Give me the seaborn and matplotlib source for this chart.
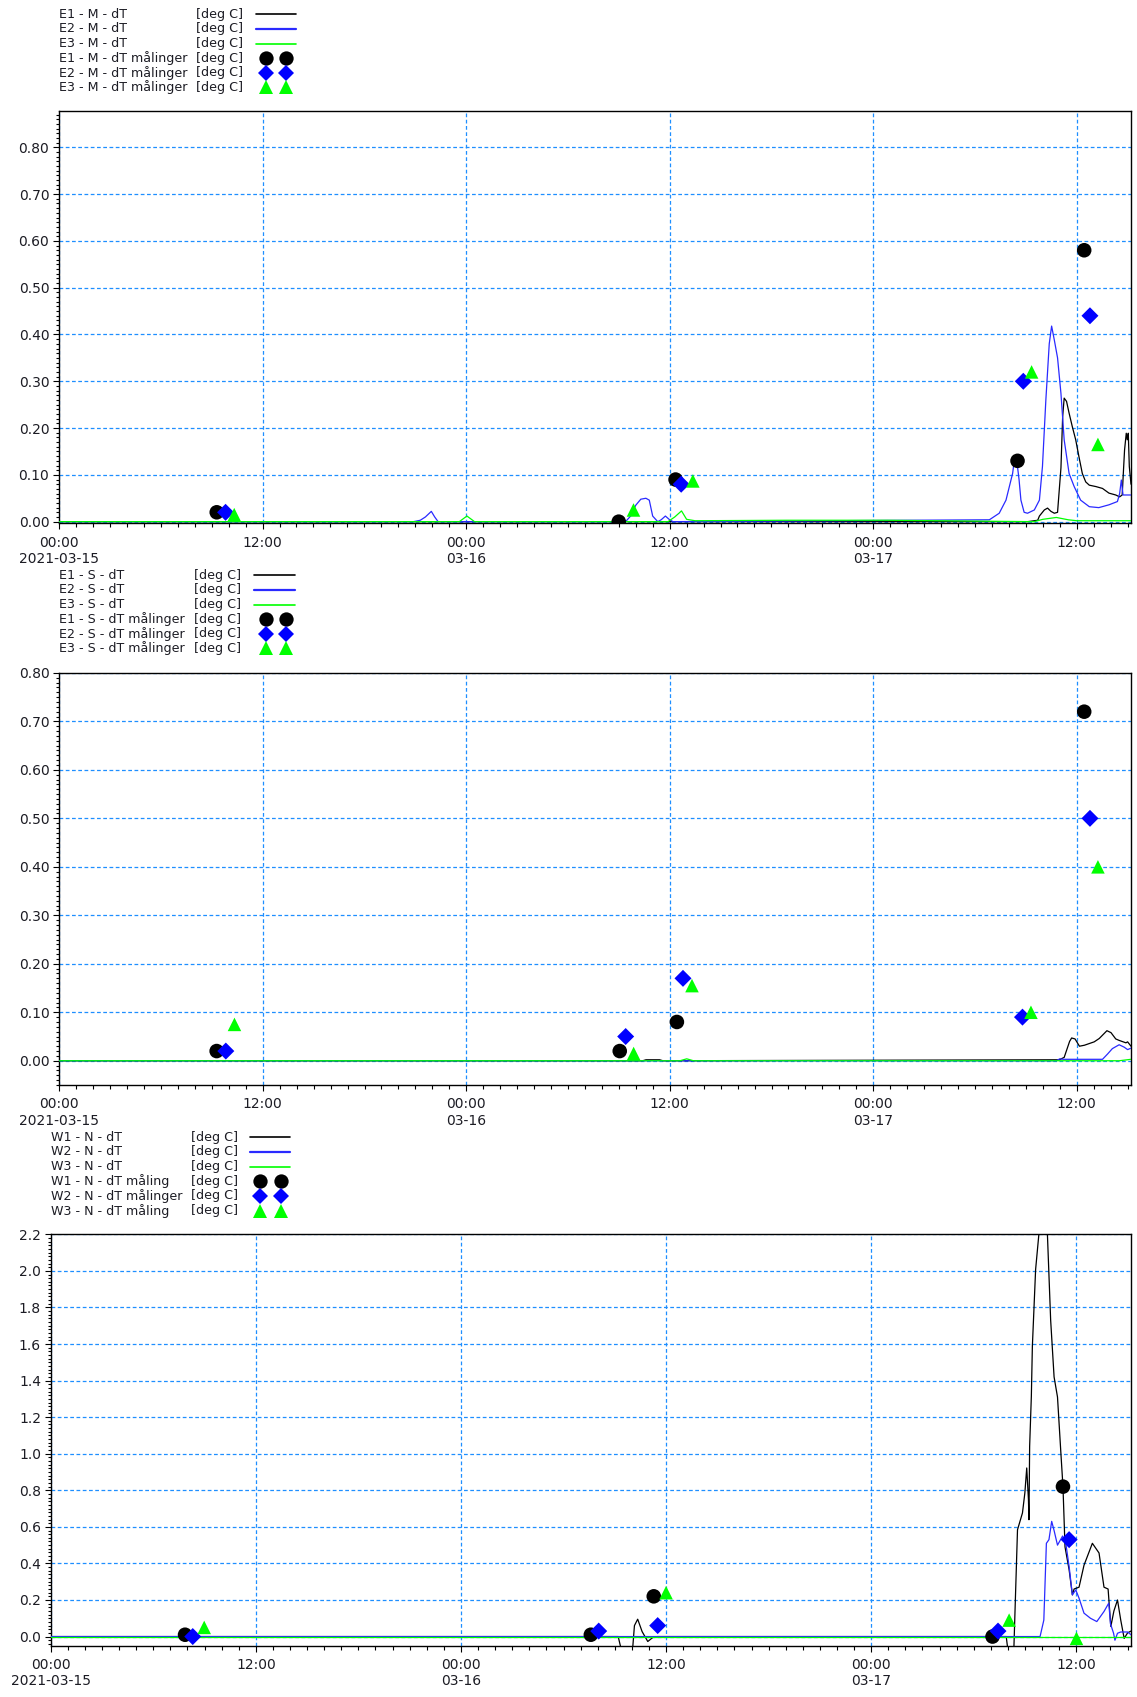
import numpy as np
import pandas as pd
import matplotlib
matplotlib.use("Agg")
import matplotlib.pyplot as plt
from matplotlib.lines import Line2D
from matplotlib.ticker import MultipleLocator, FuncFormatter
import seaborn as sns

sns.set_theme(style="white")
plt.rcParams["font.family"] = ["DejaVu Sans"]

# ---------------------------------------------------------------------------
# Time axis: hours since 2021-03-15 00:00
# ---------------------------------------------------------------------------
day_labels = ["2021-03-15", "03-16", "03-17"]
x_end = 63.2

# ---------------------------------------------------------------------------
# Panel 1 : E - M - dT
# ---------------------------------------------------------------------------
m_e1_t = [0, 57.1, 57.7, 57.8, 58.09, 58.28, 58.48, 58.68, 58.87, 59.07, 59.17, 59.26, 59.4,
          59.55, 59.74, 59.94, 60.13, 60.33, 60.53, 60.74, 61.13, 61.52, 61.9, 62.3, 62.53,
          62.68, 62.82, 62.92, 62.98, 63.04, 63.1, 63.2]
m_e1_v = [0, 0.0, 0.003, 0.012, 0.025, 0.029, 0.022, 0.018, 0.02, 0.115, 0.224, 0.264, 0.257,
          0.232, 0.203, 0.175, 0.139, 0.103, 0.085, 0.078, 0.075, 0.071, 0.061, 0.057, 0.053,
          0.057, 0.153, 0.189, 0.175, 0.189, 0.118, 0.08]
m_e2_t = [0, 20.9, 21.3, 21.6, 21.95, 22.15, 22.35, 33.4, 33.7, 34.0, 34.3, 34.6, 34.8, 35.0,
          35.3, 35.5, 35.75, 36.0, 36.2, 54.85, 55.43, 55.83, 56.22, 56.3, 56.5, 56.6, 56.71,
          56.9, 57.1, 57.5, 57.8, 57.98, 58.18, 58.38, 58.52, 58.68, 58.87, 59.07, 59.26,
          59.55, 59.85, 60.23, 60.74, 61.3, 61.9, 62.4, 62.53, 62.63, 62.73, 63.0, 63.2]
m_e2_v = [0, 0, 0.003, 0.01, 0.022, 0.01, 0, 0, 0.012, 0.035, 0.048, 0.05, 0.046, 0.012,
          0, 0.004, 0.012, 0.004, 0, 0.004, 0.018, 0.046, 0.103, 0.125, 0.12, 0.09, 0.046,
          0.02, 0.018, 0.025, 0.046, 0.118, 0.26, 0.38, 0.418, 0.388, 0.35, 0.274, 0.175,
          0.103, 0.075, 0.046, 0.032, 0.03, 0.036, 0.043, 0.06, 0.089, 0.057, 0.057, 0.057]
m_e3_t = [0, 23.6, 24.05, 24.5, 35.9, 36.3, 36.7, 37.0, 37.5, 42.9, 48.8, 57.5, 58.0, 58.8,
          59.5, 60.0, 63.2]
m_e3_v = [0, 0, 0.012, 0, 0, 0.01, 0.023, 0.005, 0.002, 0.003, 0.003, 0.0, 0.005, 0.009,
          0.004, 0.002, 0.002]

m_e1_meas_t = [9.3, 33.0, 36.35, 56.51, 60.44]
m_e1_meas_v = [0.02, 0.0, 0.09, 0.13, 0.58]
m_e2_meas_t = [9.82, 36.68, 56.85, 60.78]
m_e2_meas_v = [0.02, 0.08, 0.30, 0.44]
m_e3_meas_t = [10.33, 33.87, 37.37, 57.34, 61.25]
m_e3_meas_v = [0.015, 0.025, 0.087, 0.32, 0.165]

# ---------------------------------------------------------------------------
# Panel 2 : E - S - dT
# ---------------------------------------------------------------------------
s_e1_t = [0, 34.4, 34.6, 35.4, 35.6, 58.97, 59.26, 59.58, 59.7, 59.9, 60.16, 60.45, 61.03,
          61.33, 61.78, 62.02, 62.3, 62.5, 62.9, 63.0, 63.2]
s_e1_v = [0, 0, 0.002, 0.002, 0, 0.002, 0.007, 0.04, 0.047, 0.045, 0.03, 0.032, 0.039,
          0.046, 0.062, 0.058, 0.045, 0.042, 0.037, 0.039, 0.03]
s_e2_t = [0, 58.8, 59.0, 59.2, 61.52, 61.82, 62.1, 62.5, 62.8, 63.0, 63.2]
s_e2_v = [0, 0, 0.004, 0.003, 0.003, 0.014, 0.025, 0.033, 0.028, 0.023, 0.026]
s_e3_t = [0, 36.6, 37.0, 37.4, 62.5, 63.2]
s_e3_v = [0, 0, 0.004, 0, 0, 0.003]

s_e1_meas_t = [9.28, 33.05, 36.42, 60.44]
s_e1_meas_v = [0.02, 0.02, 0.08, 0.72]
s_e2_meas_t = [9.82, 33.40, 36.78, 56.80, 60.78]
s_e2_meas_v = [0.02, 0.05, 0.17, 0.09, 0.50]
s_e3_meas_t = [10.33, 33.87, 37.31, 57.30, 61.25]
s_e3_meas_v = [0.075, 0.015, 0.155, 0.10, 0.40]

# ---------------------------------------------------------------------------
# Panel 3 : W - N - dT
# ---------------------------------------------------------------------------
n_w1_t = [0, 33.2, 33.5, 34.0, 34.15, 34.34, 34.6, 34.93, 35.25, 35.5, 55.9, 56.06, 56.33,
          56.56, 56.85, 56.99, 57.1, 57.2, 57.23, 57.27, 57.37, 57.43, 57.62, 57.8, 58.0,
          58.2, 58.31, 58.5, 58.7, 58.9, 59.1, 59.22, 59.34, 59.58, 59.77, 59.87, 60.16,
          60.45, 60.94, 61.33, 61.62, 61.86, 62.02, 62.2, 62.41, 62.6, 62.8, 63.0, 63.2]
n_w1_v = [0, 0, -0.12, -0.12, 0.06, 0.095, 0.027, -0.027, -0.003, 0, 0, -0.12, -0.12,
          0.584, 0.676, 0.785, 0.922, 0.75, 0.639, 1.04, 1.314, 1.588, 2.008, 2.19, 2.38,
          2.38, 2.2, 1.73, 1.42, 1.31, 1.0, 0.82, 0.49, 0.365, 0.228, 0.26, 0.27,
          0.39, 0.51, 0.457, 0.27, 0.26, 0.055, 0.14, 0.2, 0.09, -0.01, 0.02, 0.03]
n_w2_t = [0, 57.88, 58.1, 58.25, 58.4, 58.56, 58.7, 58.9, 59.2, 59.4, 59.58, 59.77, 59.97,
          60.16, 60.45, 60.83, 61.2, 61.62, 61.9, 62.0, 62.18, 62.26, 62.41, 62.6, 63.0, 63.2]
n_w2_v = [0, 0, 0.09, 0.51, 0.53, 0.63, 0.58, 0.50, 0.55, 0.5, 0.383, 0.228, 0.255,
          0.21, 0.128, 0.1, 0.082, 0.137, 0.183, 0.07, 0.018, -0.02, 0.018, 0.025, 0.025, 0.01]
n_w3_t = [0, 63.2]
n_w3_v = [0, 0]

n_w1_meas_t = [7.86, 31.6, 35.28, 55.1, 59.22]
n_w1_meas_v = [0.01, 0.01, 0.22, 0.0, 0.82]
n_w2_meas_t = [8.31, 32.06, 35.51, 55.42, 59.58]
n_w2_meas_v = [0.0, 0.03, 0.06, 0.03, 0.53]
n_w3_meas_t = [8.98, 36.0, 56.07, 60.01]
n_w3_meas_v = [0.05, 0.24, 0.09, -0.01]

# Legend texts
m_names = ["E1 - M - dT", "E2 - M - dT", "E3 - M - dT",
           "E1 - M - dT målinger", "E2 - M - dT målinger", "E3 - M - dT målinger"]
s_names = ["E1 - S - dT", "E2 - S - dT", "E3 - S - dT",
           "E1 - S - dT målinger", "E2 - S - dT målinger", "E3 - S - dT målinger"]
n_names = ["W1 - N - dT", "W2 - N - dT", "W3 - N - dT",
           "W1 - N - dT måling", "W2 - N - dT målinger", "W3 - N - dT måling"]
unit_label = "[deg C]"

# ---------------------------------------------------------------------------
# Styling
# ---------------------------------------------------------------------------
C_BLACK = "#000000"
C_BLUE = "#2a2aff"
C_BLUE_M = "#0000ff"
C_GREEN = "#00ff00"
GRID_C = "#1e8fff"
TXT = "#1c1c24"
W, H = 1137, 1697

fig = plt.figure(figsize=(W / 100, H / 100), dpi=100)


def fpos(x, y):
    return x / W, 1 - y / H


def add_axes_px(left, top, right, bottom):
    return fig.add_axes([left / W, 1 - bottom / H, (right - left) / W, (bottom - top) / H])


def xfmt(v, pos):
    h = int(round(v))
    day, hh = divmod(h, 24)
    s = f"{hh:02d}:00"
    if hh == 0 and day < len(day_labels):
        s += "\n" + day_labels[day]
    return s


def draw_panel(ax, lines, meas, ylim, ymajor, yminor, ydec):
    for t, v, c in lines:
        sns.lineplot(x=t, y=v, ax=ax, color=c, linewidth=0.9, estimator=None,
                     sort=False, zorder=3)
    styles = [("o", C_BLACK, 110), ("D", C_BLUE_M, 75), ("^", C_GREEN, 95)]
    for (t, v), (mk, c, s) in zip(meas, styles):
        sns.scatterplot(x=t, y=v, ax=ax, marker=mk, color=c, s=s, linewidth=0,
                        edgecolor="none", zorder=5)
    ax.set_xlim(0, x_end)
    ax.set_ylim(*ylim)
    ax.xaxis.set_major_locator(MultipleLocator(12))
    ax.xaxis.set_minor_locator(MultipleLocator(1))
    ax.xaxis.set_major_formatter(FuncFormatter(xfmt))
    ax.yaxis.set_major_locator(MultipleLocator(ymajor))
    ax.yaxis.set_minor_locator(MultipleLocator(yminor))

    def yfmt(v, pos):
        v = 0.0 if abs(v) < 1e-9 else v
        return f"{v:.{ydec}f}"

    ax.yaxis.set_major_formatter(FuncFormatter(yfmt))
    ax.grid(True, which="major", color=GRID_C, linestyle=(0, (3, 2)), linewidth=0.9, zorder=1)
    ax.set_axisbelow(True)
    ax.set_xlabel("")
    ax.set_ylabel("")
    for sp in ax.spines.values():
        sp.set_color("#000000")
        sp.set_linewidth(1.0)
        sp.set_visible(True)
    ax.tick_params(axis="both", which="both", direction="out", colors="#000000",
                   labelcolor=TXT, labelsize=10, left=True, bottom=True)
    ax.tick_params(axis="y", which="major", length=4.5, width=0.8, pad=2.5)
    ax.tick_params(axis="y", which="minor", length=2.4, width=0.8)
    ax.tick_params(axis="x", which="major", length=4.0, width=0.8, pad=5)
    ax.tick_params(axis="x", which="minor", length=3.0, width=0.8)
    ax.set_facecolor("white")


def draw_legend(names, y0, x_name, x_unit, x_l0, x_l1, x_m0, x_m1, step=14.65):
    handles = [("line", C_BLACK), ("line", C_BLUE), ("line", C_GREEN),
               ("o", C_BLACK), ("D", C_BLUE_M), ("^", C_GREEN)]
    msize = {"o": 10.3, "D": 8.2, "^": 9.5}
    for i, (name, (kind, c)) in enumerate(zip(names, handles)):
        y = y0 + i * step
        fig.text(*fpos(x_name, y), name, fontsize=9.1, color=TXT, va="center", ha="left")
        fig.text(*fpos(x_unit, y), unit_label, fontsize=9.1, color=TXT, va="center", ha="left")
        if kind == "line":
            fig.add_artist(Line2D([x_l0 / W, x_l1 / W], [1 - y / H, 1 - y / H],
                                  color=c, linewidth=1.2 if c != C_BLUE else 1.6,
                                  transform=fig.transFigure))
        else:
            fig.add_artist(Line2D([x_m0 / W, x_m1 / W], [1 - y / H, 1 - y / H],
                                  linestyle="none", marker=kind, markersize=msize[kind],
                                  color=c, markeredgewidth=0, transform=fig.transFigure))


# Panel 1
ax1 = add_axes_px(59, 111, 1131, 523.3)
draw_panel(ax1,
           [(m_e1_t, m_e1_v, C_BLACK), (m_e2_t, m_e2_v, C_BLUE), (m_e3_t, m_e3_v, C_GREEN)],
           [(m_e1_meas_t, m_e1_meas_v), (m_e2_meas_t, m_e2_meas_v), (m_e3_meas_t, m_e3_meas_v)],
           (-0.0035, 0.8776), 0.1, 0.01, 2)
draw_legend(m_names, 14.2, 59, 196, 256, 296, 266, 286)

# Panel 2
ax2 = add_axes_px(59.3, 672.9, 1131, 1085)
draw_panel(ax2,
           [(s_e1_t, s_e1_v, C_BLACK), (s_e2_t, s_e2_v, C_BLUE), (s_e3_t, s_e3_v, C_GREEN)],
           [(s_e1_meas_t, s_e1_meas_v), (s_e2_meas_t, s_e2_meas_v), (s_e3_meas_t, s_e3_meas_v)],
           (-0.05, 0.80), 0.1, 0.01, 2)
draw_legend(s_names, 575.2, 59, 194.5, 254, 295, 266, 286)

# Panel 3
ax3 = add_axes_px(50.7, 1234.3, 1131, 1645.7)
draw_panel(ax3,
           [(n_w1_t, n_w1_v, C_BLACK), (n_w2_t, n_w2_v, C_BLUE), (n_w3_t, n_w3_v, C_GREEN)],
           [(n_w1_meas_t, n_w1_meas_v), (n_w2_meas_t, n_w2_meas_v), (n_w3_meas_t, n_w3_meas_v)],
           (-0.05, 2.2), 0.2, 0.02, 1)
draw_legend(n_names, 1137.3, 50.7, 191, 250, 290, 260, 281)

fig.savefig("out.png", dpi=100, facecolor="white")
